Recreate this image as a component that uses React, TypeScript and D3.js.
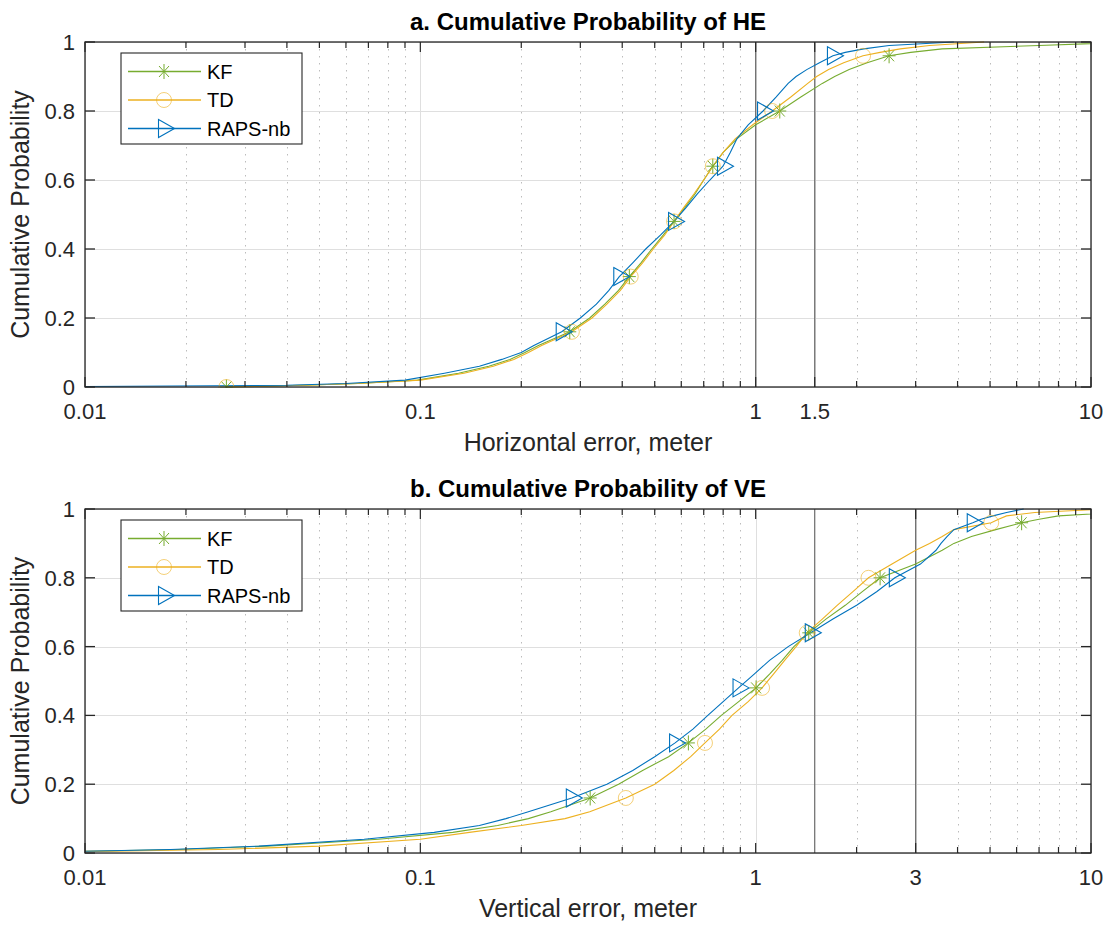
import { useEffect, useRef } from "react";
import * as d3 from "d3";

// cumulative probability levels at which the error quantiles were read
const probs = [
  0, 0.005, 0.01, 0.02, 0.04, 0.06, 0.08, 0.1, 0.12, 0.16, 0.2, 0.24, 0.28,
  0.32, 0.36, 0.4, 0.44, 0.48, 0.52, 0.56, 0.6, 0.64, 0.68, 0.72, 0.76, 0.8,
  0.84, 0.88, 0.9, 0.92, 0.94, 0.96, 0.97, 0.98, 0.99, 1,
];

// horizontal error (m) per probability level
const heKF = [
  0.0264, 0.045, 0.065, 0.098, 0.13, 0.16, 0.185, 0.205, 0.225, 0.279, 0.32,
  0.355, 0.39, 0.42, 0.455, 0.49, 0.53, 0.571, 0.615, 0.66, 0.7, 0.745, 0.8,
  0.88, 1.0, 1.18, 1.36, 1.58, 1.72, 1.9, 2.15, 2.5, 2.9, 3.6, 7.0, 14,
];
const heTD = [
  0.0264, 0.045, 0.065, 0.1, 0.135, 0.165, 0.19, 0.21, 0.23, 0.283, 0.325,
  0.36, 0.395, 0.424, 0.46, 0.495, 0.535, 0.571, 0.61, 0.655, 0.7, 0.745, 0.8,
  0.87, 0.98, 1.12, 1.27, 1.43, 1.52, 1.65, 1.83, 2.09, 2.35, 2.7, 3.3, 4.8,
];
const heRAPS = [
  0.006, 0.04, 0.06, 0.09, 0.118, 0.15, 0.175, 0.2, 0.218, 0.264, 0.3, 0.335,
  0.365, 0.392, 0.43, 0.47, 0.52, 0.571, 0.62, 0.67, 0.73, 0.799, 0.84, 0.88,
  0.95, 1.052, 1.15, 1.25, 1.32, 1.42, 1.55, 1.7, 1.85, 2.1, 2.5, 3.9,
];

// vertical error (m) per probability level
const veKF = [
  0.001, 0.01, 0.019, 0.035, 0.075, 0.125, 0.17, 0.21, 0.245, 0.321, 0.39,
  0.46, 0.55, 0.63, 0.71, 0.79, 0.89, 1.003, 1.1, 1.2, 1.3, 1.44, 1.62, 1.85,
  2.08, 2.35, 3.0, 3.6, 3.9, 4.4, 5.2, 6.21, 7.0, 8.0, 12, 20,
];
const veTD = [
  0.001, 0.012, 0.025, 0.05, 0.1, 0.14, 0.2, 0.27, 0.32, 0.41, 0.5, 0.57,
  0.64, 0.706, 0.78, 0.85, 0.95, 1.045, 1.13, 1.22, 1.32, 1.42, 1.58, 1.75,
  1.95, 2.17, 2.55, 3.0, 3.3, 3.6, 3.9, 5.04, 5.3, 5.6, 6.8, 11,
];
const veRAPS = [
  0.001, 0.01, 0.018, 0.033, 0.068, 0.11, 0.15, 0.18, 0.21, 0.283, 0.36,
  0.43, 0.5, 0.575, 0.65, 0.72, 0.8, 0.889, 0.99, 1.1, 1.25, 1.46, 1.7, 2.0,
  2.3, 2.6, 3.1, 3.45, 3.57, 3.72, 3.9, 4.44, 4.7, 5.1, 5.6, 6.3,
];

const markerProbs = [0, 0.16, 0.32, 0.48, 0.64, 0.8, 0.96];
const seriesNames = ["KF", "TD", "RAPS-nb"];
const seriesColors = ["#77AC30", "#EDB120", "#0072BD"];
const seriesMarkers = ["star", "circle", "triangle"];

const heTicks = [0.01, 0.1, 1, 1.5, 10];
const veTicks = [0.01, 0.1, 1, 3, 10];
const heRefLines = [1, 1.5];
const veRefLines = [1.5, 3];
const yTicks = [0, 0.2, 0.4, 0.6, 0.8, 1];

const FONT = "'Liberation Sans', Arial, Helvetica, sans-serif";
const W = 1112;
const H = 926;
const LEFT = 85;
const RIGHT = 1091;

function drawMarker(g: any, type: string, cx: number, cy: number, color: string) {
  if (type === "star") {
    const segs = [
      [-6.5, 0, 6.5, 0],
      [0, -7.5, 0, 7.5],
      [-5, -5.5, 5, 5.5],
      [-5, 5.5, 5, -5.5],
    ];
    segs.forEach((s) => {
      g.append("line")
        .attr("x1", cx + s[0])
        .attr("y1", cy + s[1])
        .attr("x2", cx + s[2])
        .attr("y2", cy + s[3])
        .attr("stroke", color)
        .attr("stroke-width", 1);
    });
  } else if (type === "circle") {
    g.append("circle")
      .attr("cx", cx)
      .attr("cy", cy)
      .attr("r", 7.5)
      .attr("fill", "none")
      .attr("stroke", color)
      .attr("stroke-opacity", 0.6)
      .attr("stroke-width", 1);
  } else {
    g.append("path")
      .attr(
        "d",
        `M${cx - 5.5},${cy - 9}L${cx + 10.5},${cy}L${cx - 5.5},${cy + 9}Z`
      )
      .attr("fill", "none")
      .attr("stroke", color)
      .attr("stroke-width", 1.1);
  }
}

function drawPanel(svg: any, opts: any) {
  const { top, bottom, title, xlabel, series, ticks, refLines, id } = opts;

  const x = d3.scaleLog().domain([0.01, 10]).range([LEFT, RIGHT]);
  const y = d3.scaleLinear().domain([0, 1]).range([bottom, top]);

  svg
    .append("defs")
    .append("clipPath")
    .attr("id", id)
    .append("rect")
    .attr("x", LEFT)
    .attr("y", top - 1)
    .attr("width", RIGHT - LEFT)
    .attr("height", bottom - top + 2);

  const g = svg.append("g");

  // minor positions: 2..9 times each decade
  const minor: number[] = [];
  [0.01, 0.1, 1].forEach((dec) => {
    for (let k = 2; k <= 9; k++) minor.push(+(dec * k).toFixed(3));
  });
  const minorOnly = minor.filter((v) => !ticks.includes(v));

  // minor grid (dotted)
  g.selectAll(".mgrid")
    .data(minorOnly)
    .enter()
    .append("line")
    .attr("x1", (d: number) => Math.round(x(d)) + 0.5)
    .attr("x2", (d: number) => Math.round(x(d)) + 0.5)
    .attr("y1", top)
    .attr("y2", bottom)
    .attr("stroke", "#bcbcbc")
    .attr("stroke-width", 1)
    .attr("stroke-dasharray", "1.5,5.5");

  // major grid
  g.selectAll(".xgrid")
    .data(ticks)
    .enter()
    .append("line")
    .attr("x1", (d: number) => Math.round(x(d)) + 0.5)
    .attr("x2", (d: number) => Math.round(x(d)) + 0.5)
    .attr("y1", top)
    .attr("y2", bottom)
    .attr("stroke", "#dfdfdf")
    .attr("stroke-width", 1);

  g.selectAll(".ygrid")
    .data(yTicks)
    .enter()
    .append("line")
    .attr("x1", LEFT)
    .attr("x2", RIGHT)
    .attr("y1", (d: number) => Math.round(y(d)) + 0.5)
    .attr("y2", (d: number) => Math.round(y(d)) + 0.5)
    .attr("stroke", "#dfdfdf")
    .attr("stroke-width", 1.2);

  // reference lines
  g.selectAll(".ref")
    .data(refLines)
    .enter()
    .append("line")
    .attr("x1", (d: number) => x(d))
    .attr("x2", (d: number) => x(d))
    .attr("y1", top)
    .attr("y2", bottom)
    .attr("stroke", "#6a6a6a")
    .attr("stroke-width", 1.2);

  // curves
  const plot = g.append("g").attr("clip-path", `url(#${id})`);
  const line = d3
    .line<[number, number]>()
    .x((d) => x(d[0]))
    .y((d) => y(d[1]));

  series.forEach((vals: number[], si: number) => {
    const pts: [number, number][] = vals.map((v, i) => [v, probs[i]]);
    plot
      .append("path")
      .attr("d", line(pts))
      .attr("fill", "none")
      .attr("stroke", seriesColors[si])
      .attr("stroke-width", 1.1);
  });

  series.forEach((vals: number[], si: number) => {
    markerProbs.forEach((p) => {
      const i = probs.indexOf(p);
      const v = vals[i];
      if (v < 0.01 || v > 10) return;
      drawMarker(plot, seriesMarkers[si], x(v), y(p), seriesColors[si]);
    });
  });

  // axes box
  g.append("rect")
    .attr("x", LEFT)
    .attr("y", top)
    .attr("width", RIGHT - LEFT)
    .attr("height", bottom - top)
    .attr("fill", "none")
    .attr("stroke", "#262626")
    .attr("stroke-width", 1.3);

  // x ticks (inside, top and bottom)
  const tickLines = (vals: number[], len: number) => {
    vals.forEach((v) => {
      const px = x(v);
      g.append("line")
        .attr("x1", px)
        .attr("x2", px)
        .attr("y1", bottom)
        .attr("y2", bottom - len)
        .attr("stroke", "#262626")
        .attr("stroke-width", 1.2);
      g.append("line")
        .attr("x1", px)
        .attr("x2", px)
        .attr("y1", top)
        .attr("y2", top + len)
        .attr("stroke", "#262626")
        .attr("stroke-width", 1.2);
    });
  };
  tickLines(ticks, 10);
  tickLines(minorOnly, 6);

  yTicks.forEach((v) => {
    g.append("line")
      .attr("x1", LEFT)
      .attr("x2", LEFT + 10)
      .attr("y1", y(v))
      .attr("y2", y(v))
      .attr("stroke", "#262626")
      .attr("stroke-width", 1.3);
    g.append("line")
      .attr("x1", RIGHT)
      .attr("x2", RIGHT - 10)
      .attr("y1", y(v))
      .attr("y2", y(v))
      .attr("stroke", "#262626")
      .attr("stroke-width", 1.3);
  });

  // tick labels
  g.selectAll(".xl")
    .data(ticks)
    .enter()
    .append("text")
    .attr("x", (d: number) => x(d))
    .attr("y", bottom + 32)
    .attr("text-anchor", "middle")
    .attr("font-family", FONT)
    .attr("font-size", 22)
    .attr("fill", "#262626")
    .text((d: number) => String(d));

  g.selectAll(".yl")
    .data(yTicks)
    .enter()
    .append("text")
    .attr("x", LEFT - 10)
    .attr("y", (d: number) => y(d) + 8)
    .attr("text-anchor", "end")
    .attr("font-family", FONT)
    .attr("font-size", 22)
    .attr("fill", "#262626")
    .text((d: number) => String(d));

  // axis labels and title
  g.append("text")
    .attr("x", (LEFT + RIGHT) / 2)
    .attr("y", bottom + 64)
    .attr("text-anchor", "middle")
    .attr("font-family", FONT)
    .attr("font-size", 25)
    .attr("fill", "#262626")
    .text(xlabel);

  g.append("text")
    .attr("transform", `translate(29,${(top + bottom) / 2}) rotate(-90)`)
    .attr("text-anchor", "middle")
    .attr("font-family", FONT)
    .attr("font-size", 25)
    .attr("fill", "#262626")
    .text("Cumulative Probability");

  g.append("text")
    .attr("x", (LEFT + RIGHT) / 2)
    .attr("y", top - 12)
    .attr("text-anchor", "middle")
    .attr("font-family", FONT)
    .attr("font-size", 24)
    .attr("font-weight", "bold")
    .attr("fill", "#000")
    .text(title);

  // legend
  const lg = g.append("g").attr("transform", `translate(121,${top + 11})`);
  lg.append("rect")
    .attr("x", 0)
    .attr("y", 0)
    .attr("width", 181)
    .attr("height", 91)
    .attr("fill", "#fff")
    .attr("stroke", "#262626")
    .attr("stroke-width", 1.1);
  seriesNames.forEach((name, i) => {
    const ly = 18.5 + i * 28.5;
    lg.append("line")
      .attr("x1", 7)
      .attr("x2", 80)
      .attr("y1", ly)
      .attr("y2", ly)
      .attr("stroke", seriesColors[i])
      .attr("stroke-width", 1.3);
    drawMarker(lg, seriesMarkers[i], 43, ly, seriesColors[i]);
    lg.append("text")
      .attr("x", 86)
      .attr("y", ly + 7)
      .attr("font-family", FONT)
      .attr("font-size", 20)
      .attr("fill", "#000")
      .text(name);
  });
}

const App = () => {
  const ref = useRef<SVGSVGElement | null>(null);

  useEffect(() => {
    const svg = d3.select(ref.current);
    svg.selectAll("*").remove();

    drawPanel(svg, {
      top: 42,
      bottom: 387,
      title: "a. Cumulative Probability of HE",
      xlabel: "Horizontal error, meter",
      series: [heKF, heTD, heRAPS],
      ticks: heTicks,
      refLines: heRefLines,
      id: "clip-he",
    });

    drawPanel(svg, {
      top: 509,
      bottom: 853,
      title: "b. Cumulative Probability of VE",
      xlabel: "Vertical error, meter",
      series: [veKF, veTD, veRAPS],
      ticks: veTicks,
      refLines: veRefLines,
      id: "clip-ve",
    });
  }, []);

  return (
    <div style={{ position: "absolute", left: 0, top: 0 }}>
      <svg ref={ref} width={W} height={H} style={{ display: "block", background: "#fff" }} />
    </div>
  );
};

export default App;
